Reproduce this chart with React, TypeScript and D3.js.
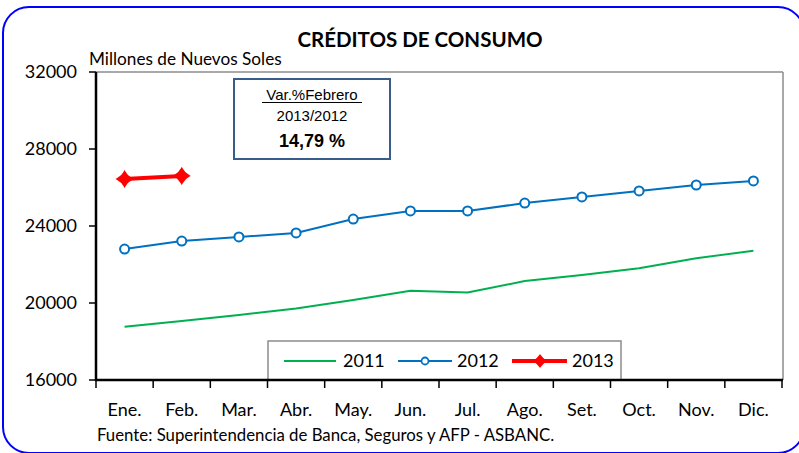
import React from "react";
import * as d3 from "d3";

const months = ["Ene.", "Feb.", "Mar.", "Abr.", "May.", "Jun.", "Jul.", "Ago.", "Set.", "Oct.", "Nov.", "Dic."];
const values2011 = [18770, 19060, 19380, 19720, 20160, 20640, 20540, 21140, 21450, 21800, 22320, 22720];
const values2012 = [22800, 23220, 23430, 23640, 24360, 24780, 24780, 25190, 25510, 25820, 26130, 26340];
const values2013 = [26440, 26600];
const yTicks = [16000, 20000, 24000, 28000, 32000];
const seriesNames = ["2011", "2012", "2013"];

const W = 799;
const H = 453;
const FONT = "Lato, 'Open Sans', sans-serif";
const ARIAL = "'Liberation Sans', Arial, sans-serif";

const GREEN = "#00B050";
const BLUE = "#0070C0";
const RED = "#FF0000";

const starPath = (cx: number, cy: number, r: number) =>
  `M${cx},${cy - r} Q${cx + 2.5},${cy - 2.5} ${cx + r},${cy} Q${cx + 2.5},${cy + 2.5} ${cx},${cy + r} Q${cx - 2.5},${cy + 2.5} ${cx - r},${cy} Q${cx - 2.5},${cy - 2.5} ${cx},${cy - r}Z`;

export default function App() {
  const left = 96;
  const right = 782;
  const top = 72;
  const bottom = 380;

  const x = d3.scaleBand<string>().domain(months).range([left, right]).padding(0);
  const y = d3.scaleLinear().domain([16000, 32000]).range([bottom, top]);
  const cx = (i: number) => (x(months[i]) as number) + x.bandwidth() / 2;

  const line = d3
    .line<number>()
    .x((_, i) => cx(i))
    .y((d) => y(d));

  const boundaries = d3.range(months.length + 1).map((i) => left + i * x.bandwidth());

  return (
    <svg width={W} height={H} style={{ position: "absolute", left: 0, top: 0 }}>
      <rect x={0} y={0} width={W} height={H} fill="white" />
      {/* outer frame */}
      <rect x={3} y={7} width={801} height={446} rx={26} ry={26} fill="white" stroke="#0000FF" strokeWidth={2} />

      {/* title */}
      <text x={420} y={47} textAnchor="middle" fontFamily={FONT} fontWeight="bold" fontSize={20.5} fill="#000">
        CRÉDITOS DE CONSUMO
      </text>
      <text x={89} y={65} fontFamily={FONT} fontSize={17.2} fill="#000">
        Millones de Nuevos Soles
      </text>

      {/* plot area border (top/right) */}
      <line x1={left} y1={top} x2={right + 1} y2={top} stroke="#8C8C8C" strokeWidth={1.5} />
      <line x1={right + 1} y1={top} x2={right + 1} y2={bottom} stroke="#8C8C8C" strokeWidth={1.5} />

      {/* series 2011 */}
      <path d={line(values2011) as string} fill="none" stroke={GREEN} strokeWidth={2} />
      {/* series 2012 */}
      <path d={line(values2012) as string} fill="none" stroke={BLUE} strokeWidth={2} />
      {values2012.map((v, i) => (
        <circle key={"c" + i} cx={cx(i)} cy={y(v)} r={4.5} fill="white" stroke={BLUE} strokeWidth={2} />
      ))}
      {/* series 2013 */}
      <path d={line(values2013) as string} fill="none" stroke={RED} strokeWidth={4} />
      {values2013.map((v, i) => (
        <path key={"s" + i} d={starPath(cx(i), y(v), 7.5)} fill={RED} stroke={RED} strokeWidth={1.5} />
      ))}

      {/* y axis */}
      <line x1={left} y1={top} x2={left} y2={bottom + 1} stroke="#000" strokeWidth={2.5} />
      {yTicks.map((t) => (
        <g key={t}>
          <line x1={left - 7} x2={left} y1={y(t)} y2={y(t)} stroke="#000" strokeWidth={1.5} />
          <text x={77} y={y(t) + 6} textAnchor="end" fontFamily={FONT} fontSize={18} fill="#000">
            {t}
          </text>
        </g>
      ))}

      {/* legend */}
      <rect x={268} y={341} width={353} height={39} fill="white" stroke="#8C8C8C" strokeWidth={1.5} />
      <line x1={284} x2={336} y1={361} y2={361} stroke={GREEN} strokeWidth={2} />
      <text x={343} y={367} fontFamily={FONT} fontSize={18} fill="#000">{seriesNames[0]}</text>
      <line x1={398} x2={452} y1={361} y2={361} stroke={BLUE} strokeWidth={2} />
      <circle cx={425} cy={361} r={3.5} fill="white" stroke={BLUE} strokeWidth={1.8} />
      <text x={457} y={367} fontFamily={FONT} fontSize={18} fill="#000">{seriesNames[1]}</text>
      <line x1={512} x2={567} y1={361} y2={361} stroke={RED} strokeWidth={4} />
      <path d={starPath(540, 361, 6)} fill={RED} stroke={RED} strokeWidth={1.2} />
      <text x={572} y={367} fontFamily={FONT} fontSize={18} fill="#000">{seriesNames[2]}</text>

      {/* x axis */}
      <line x1={left - 1} x2={right + 1} y1={bottom} y2={bottom} stroke="#000" strokeWidth={2.5} />
      {boundaries.map((b, i) => (
        <line key={"t" + i} x1={b} x2={b} y1={bottom} y2={bottom + 8} stroke="#000" strokeWidth={1.5} />
      ))}
      {months.map((m, i) => (
        <text key={m} x={cx(i)} y={416} textAnchor="middle" fontFamily={FONT} fontSize={18} fill="#000">
          {m}
        </text>
      ))}

      {/* annotation box */}
      <rect x={234} y={79} width={156} height={80} fill="white" stroke="#385D8A" strokeWidth={2} />
      <text x={312} y={100} textAnchor="middle" fontFamily={ARIAL} fontSize={15} fill="#000">
        Var.%Febrero
      </text>
      <line x1={262} x2={362} y1={102.5} y2={102.5} stroke="#000" strokeWidth={1.2} />
      <text x={312} y={121} textAnchor="middle" fontFamily={ARIAL} fontSize={15} fill="#000">
        2013/2012
      </text>
      <text x={312} y={147} textAnchor="middle" fontFamily={ARIAL} fontSize={18} fontWeight="bold" fill="#000">
        14,79 %
      </text>

      {/* footer */}
      <text x={97} y={441} fontFamily={FONT} fontSize={16.8} fill="#000">
        Fuente: Superintendencia de Banca, Seguros y AFP - ASBANC.
      </text>
    </svg>
  );
}
